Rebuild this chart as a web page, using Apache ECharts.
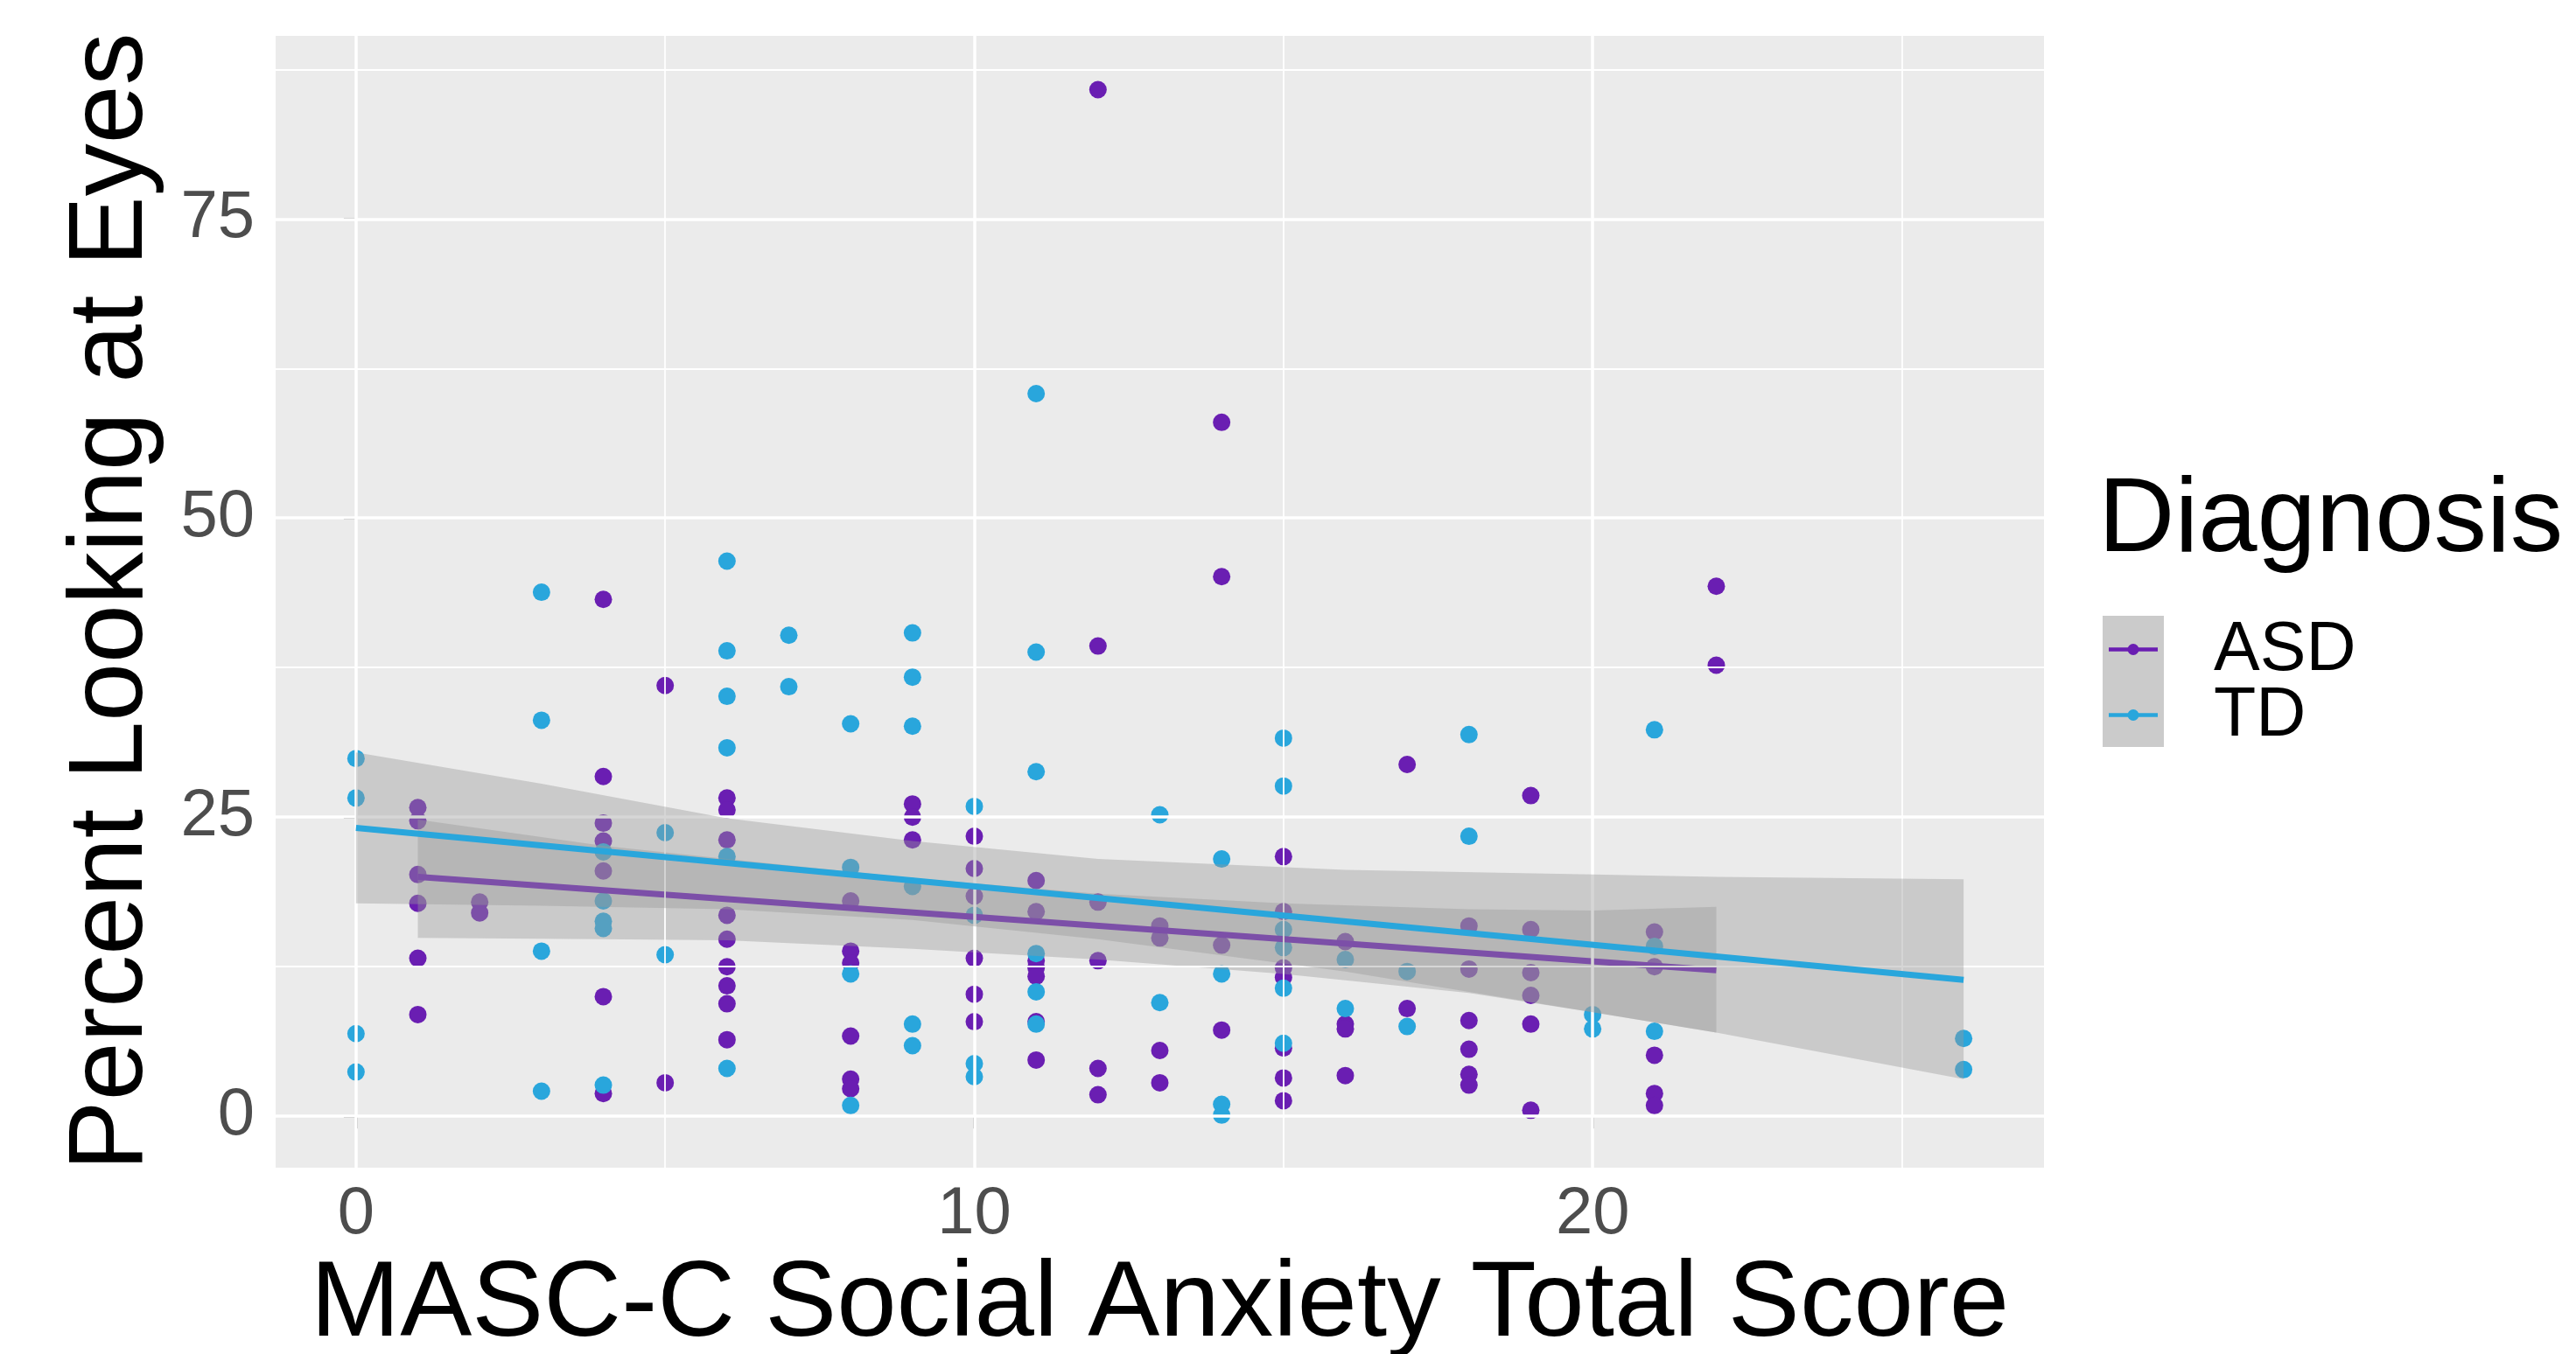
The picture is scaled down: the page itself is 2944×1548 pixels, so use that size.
<!DOCTYPE html>
<html><head><meta charset="utf-8">
<script src="https://cdn.jsdelivr.net/npm/echarts@6/dist/echarts.min.js"></script>
<style>html,body{margin:0;padding:0;background:#fff}#c{width:2944px;height:1548px}</style>
</head><body><div id="c"></div>
<script>
// ---- data ----
const asdScore = [1,1,1,1,1,1, 2,2, 4,4,4,4,4,4,4, 5,5, 6,6,6,6,6,6,6,6,6, 8,8,8,8,8,8, 9,9,9, 10,10,10,10,10,10, 11,11,11,11,11,11,11, 12,12,12,12,12,12, 13,13,13,13, 14,14,14,14, 15,15,15,15,15,15,15, 16,16,16,16, 17,17, 18,18,18,18,18,18, 19,19,19,19,19,19, 21,21,21,21,21, 22,22];
const asdEyes  = [25.8,24.7,20.2,17.8,13.2,8.5, 17.9,17.0, 43.2,28.4,24.5,23.0,20.5,10.0,1.9, 36.0,2.8, 26.6,25.6,23.1,16.8,14.8,12.5,10.9,9.4,6.4, 18.0,13.8,12.8,6.7,3.1,2.3, 26.1,25.0,23.1, 23.4,20.7,18.4,13.2,10.2,7.9, 19.7,17.1,13.0,12.4,11.7,7.9,4.7, 85.8,39.3,17.9,13.0,4.0,1.8, 15.9,14.9,5.5,2.8, 58.0,45.1,14.3,7.2, 21.7,17.1,12.4,11.6,5.7,3.2,1.3, 14.6,7.7,7.3,3.4, 29.4,9.0, 15.9,12.3,8.0,5.6,3.5,2.6, 26.8,15.6,12.0,10.1,7.7,0.5, 15.4,12.5,5.1,1.9,0.9, 44.3,37.7];
const tdScore  = [0,0,0,0, 3,3,3,3, 4,4,4,4,4, 5,5, 6,6,6,6,6,6, 7,7, 8,8,8,8, 9,9,9,9,9,9, 10,10,10,10, 11,11,11,11,11,11, 13,13, 14,14,14,14, 15,15,15,15,15,15, 16,16, 17,17, 18,18, 20,20, 21,21,21, 26,26];
const tdEyes   = [29.9,26.6,6.9,3.7, 43.8,33.1,13.8,2.1, 22.1,18.0,16.3,15.7,2.6, 23.7,13.5, 46.4,38.9,35.1,30.8,21.7,4.0, 40.2,35.9, 32.8,20.8,11.9,0.9, 40.4,36.7,32.6,19.2,7.7,5.9, 25.9,16.8,4.4,3.3, 60.4,38.8,28.8,13.6,10.4,7.7, 25.2,9.5, 21.5,11.9,1.0,0.1, 31.6,27.6,15.6,14.1,10.7,6.1, 13.1,9.0, 12.1,7.5, 31.9,23.4, 8.5,7.3, 32.3,14.2,7.1, 6.5,3.9];

// fitted lines (end points) and confidence bands
const asdFitX = [1, 22];
const asdFitY = [20.0, 12.2];
const tdFitX  = [0, 26];
const tdFitY  = [24.1, 11.4];
const asdBandX     = [1, 4, 6, 9, 12, 15, 18, 20, 22];
const asdBandLower = [14.9, 14.8, 14.7, 14.0, 13.1, 11.9, 10.3, 8.7, 7.0];
const asdBandUpper = [24.8, 22.6, 21.5, 19.9, 18.6, 17.8, 17.3, 17.2, 17.5];
const tdBandX      = [0, 3, 6, 9, 12, 16, 20, 22, 26];
const tdBandLower  = [17.8, 17.6, 17.3, 16.4, 14.8, 12.1, 8.7, 7.0, 3.1];
const tdBandUpper  = [30.4, 27.8, 24.9, 23.0, 21.5, 20.6, 20.2, 20.0, 19.8];

const xTicks = [0, 10, 20];
const xMinorGrid = [5, 15, 25];
const yTicks = [0, 25, 50, 75];
const yMinorGrid = [12.5, 37.5, 62.5, 87.5];

const groups = ['ASD', 'TD'];
const legendTitle = 'Diagnosis';
const colors = { ASD: '#6A1EB2', TD: '#29A6DC' };

// ---- chart ----
const FONT = '"Liberation Sans", Arial, sans-serif';
const zip = (a, b) => a.map((v, i) => [v, b[i]]);

function band(xs, lo, hi, z) {
  return {
    type: 'custom', coordinateSystem: 'cartesian2d', z: z, silent: true,
    data: [[xs[0], lo[0]]], encode: { x: 0, y: 1 },
    renderItem: function (params, api) {
      const pts = [];
      for (let i = 0; i < xs.length; i++) pts.push(api.coord([xs[i], hi[i]]));
      for (let i = xs.length - 1; i >= 0; i--) pts.push(api.coord([xs[i], lo[i]]));
      return { type: 'polygon', shape: { points: pts }, style: { fill: 'rgba(153,153,153,0.4)' } };
    }
  };
}

const gridLines = (vals, axis, w) => vals.map(v => ({ [axis]: v, lineStyle: { color: '#FFFFFF', width: w, type: 'solid' } }));

// legend (ggplot-style key: grey box with line + dot)
const keyLeft = 2403, keyTop = 704, keyW = 70, keyH = 75;
const legendGraphics = [
  { type: 'rect', z: 0, silent: true, shape: { x: keyLeft, y: keyTop, width: keyW, height: keyH * groups.length }, style: { fill: '#CBCBCB' } },
  { type: 'text', z: 1, silent: true, x: 2398, y: 536, style: { text: legendTitle, font: '121px "Liberation Sans", Arial, sans-serif', fill: '#000000', verticalAlign: 'top', align: 'left' } }
];
groups.forEach((g, i) => {
  const cy = keyTop + keyH * i + keyH / 2 + 1;
  legendGraphics.push(
    { type: 'line', z: 1, silent: true, shape: { x1: keyLeft + 7, y1: cy, x2: keyLeft + keyW - 7, y2: cy }, style: { stroke: colors[g], lineWidth: 4.5 } },
    { type: 'circle', z: 2, silent: true, shape: { cx: keyLeft + keyW / 2, cy: cy, r: 6.5 }, style: { fill: colors[g] } },
    { type: 'text', z: 1, silent: true, x: 2530, y: cy + 2, style: { text: g, font: '79px "Liberation Sans", Arial, sans-serif', fill: '#000000', verticalAlign: 'middle', align: 'left' } }
  );
});

const chart = echarts.init(document.getElementById('c'), null, { renderer: 'canvas' });
chart.setOption({
  animation: false,
  backgroundColor: '#FFFFFF',
  textStyle: { fontFamily: FONT },
  grid: { left: 315, right: 608, top: 41, bottom: 213, containLabel: false, outerBoundsMode: 'none',
          show: true, backgroundColor: '#EBEBEB', borderWidth: 0 },
  xAxis: {
    type: 'value', min: -1.3, max: 27.3,
    name: 'MASC-C Social Anxiety Total Score', nameLocation: 'middle', nameGap: 93,
    nameTextStyle: { fontSize: 123, color: '#000000', fontFamily: FONT },
    axisLine: { show: false },
    axisTick: { show: true, customValues: xTicks, length: 14, lineStyle: { color: '#333333', width: 2.5 } },
    axisLabel: { customValues: xTicks, fontSize: 76, color: '#4D4D4D', margin: 16, fontFamily: FONT },
    splitLine: { show: false }
  },
  yAxis: {
    type: 'value', min: -4.3, max: 90.3,
    name: 'Percent Looking at Eyes', nameLocation: 'middle', nameGap: 126, nameRotate: 90,
    nameTextStyle: { fontSize: 120, color: '#000000', fontFamily: FONT },
    axisLine: { show: false },
    axisTick: { show: true, customValues: yTicks, length: 14, lineStyle: { color: '#333333', width: 2.5 } },
    axisLabel: { customValues: yTicks, fontSize: 76, color: '#4D4D4D', margin: 24, fontFamily: FONT },
    splitLine: { show: false }
  },
  graphic: legendGraphics,
  series: [
    { type: 'line', data: [], z: 1, silent: true,
      markLine: { silent: true, symbol: ['none', 'none'], label: { show: false }, animation: false,
        data: gridLines(xMinorGrid, 'xAxis', 1.8).concat(gridLines(yMinorGrid, 'yAxis', 1.8))
          .concat(gridLines(xTicks, 'xAxis', 3.5)).concat(gridLines(yTicks, 'yAxis', 3.5)) } },
    { name: 'ASD', type: 'scatter', z: 2, symbolSize: 20, data: zip(asdScore, asdEyes), itemStyle: { color: colors.ASD, opacity: 1 } },
    { name: 'TD', type: 'scatter', z: 2, symbolSize: 20, data: zip(tdScore, tdEyes), itemStyle: { color: colors.TD, opacity: 1 } },
    band(asdBandX, asdBandLower, asdBandUpper, 3),
    { name: 'ASD fit', type: 'line', z: 4, data: zip(asdFitX, asdFitY), showSymbol: false, silent: true,
      lineStyle: { color: colors.ASD, width: 7 } },
    band(tdBandX, tdBandLower, tdBandUpper, 5),
    { name: 'TD fit', type: 'line', z: 6, data: zip(tdFitX, tdFitY), showSymbol: false, silent: true,
      lineStyle: { color: colors.TD, width: 7 } }
  ]
});
</script></body></html>
